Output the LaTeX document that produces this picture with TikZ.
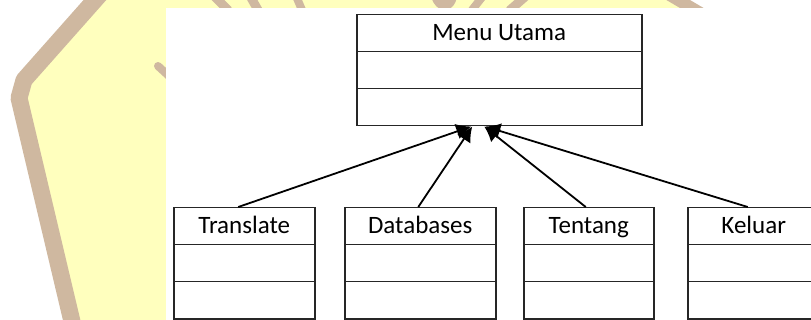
\documentclass[tikz,border=0pt]{standalone}
\usepackage{fontspec}
\setmainfont{Carlito}
\usetikzlibrary{shapes.multipart,arrows.meta}
\definecolor{wmyellow}{RGB}{255,255,190}
\definecolor{wmtan}{RGB}{207,184,160}
\newcommand{\clsrow}{\rule[-10pt]{0pt}{35.5pt}}

\begin{document}
\begin{tikzpicture}[x=1pt,y=-1pt,
    umlclass/.style={rectangle split, rectangle split parts=3, draw=black!85,
      line width=1.5pt, inner xsep=0pt, inner ysep=0pt, anchor=north west,
      font=\fontsize{25}{30}\selectfont},
    inherit/.style={-{Latex[length=15pt,width=16pt]}, line width=1.8pt},
    wmband/.style={wmtan, line width=#1, line cap=round, line join=round}]
      \useasboundingbox (0,0) rectangle (811,320);
      \clip (0,0) rectangle (811,320);

      \fill [wmyellow] (100,0) -- (668,0) -- (705,20) -- (705,320) -- (76,320) -- (18,96) -- (24,80) -- cycle;
      \draw [wmband=17pt] (102,-8) -- (24,80) -- (19,98) -- (74,330);
      \draw [wmband=12pt] (668,-6) -- (702,14);
      \draw [wmband=9pt] (214,-4) -- (228,10);
      \draw [wmband=9pt] (250,-4) -- (258,10);
      \draw [wmband=8pt] (296,-4) -- (302,10);
      \draw [wmband=10pt] (436,-4) .. controls (440,8) and (450,8) .. (452,-4);
      \draw [wmband=8pt] (483,-4) -- (472,10);
      \draw [wmband=9pt] (526,-4) -- (510,10);
      \draw [wmband=8pt] (158,66) -- (170,77);
      \fill [white] (166,8) rectangle (811,320);

      \node [umlclass, minimum width=285pt] (menu) at (356,14)
        {\clsrow Menu Utama \nodepart{two}\clsrow \nodepart{three}\clsrow};

      \node [umlclass, minimum width=141pt] (translate) at (173,207)
        {\clsrow Translate \nodepart{two}\clsrow \nodepart{three}\clsrow};
      \node [umlclass, minimum width=151pt] (databases) at (344,207)
        {\clsrow Databases \nodepart{two}\clsrow \nodepart{three}\clsrow};
      \node [umlclass, minimum width=130pt] (tentang) at (523,207)
        {\clsrow Tentang \nodepart{two}\clsrow \nodepart{three}\clsrow};
      \node [umlclass, minimum width=132pt] (keluar) at (687,207)
        {\clsrow Keluar \nodepart{two}\clsrow \nodepart{three}\clsrow};

      \draw [inherit] ([xshift=-6pt]translate.north) -- ([xshift=-28pt]menu.south);
      \draw [inherit] ([xshift=-2pt]databases.north) -- ([xshift=-27pt]menu.south);
      \draw [inherit] ([xshift=-3pt]tentang.north) -- ([xshift=-15pt]menu.south);
      \draw [inherit] ([xshift=-6pt]keluar.north) -- ([xshift=-14pt]menu.south);
\end{tikzpicture}
\end{document}
